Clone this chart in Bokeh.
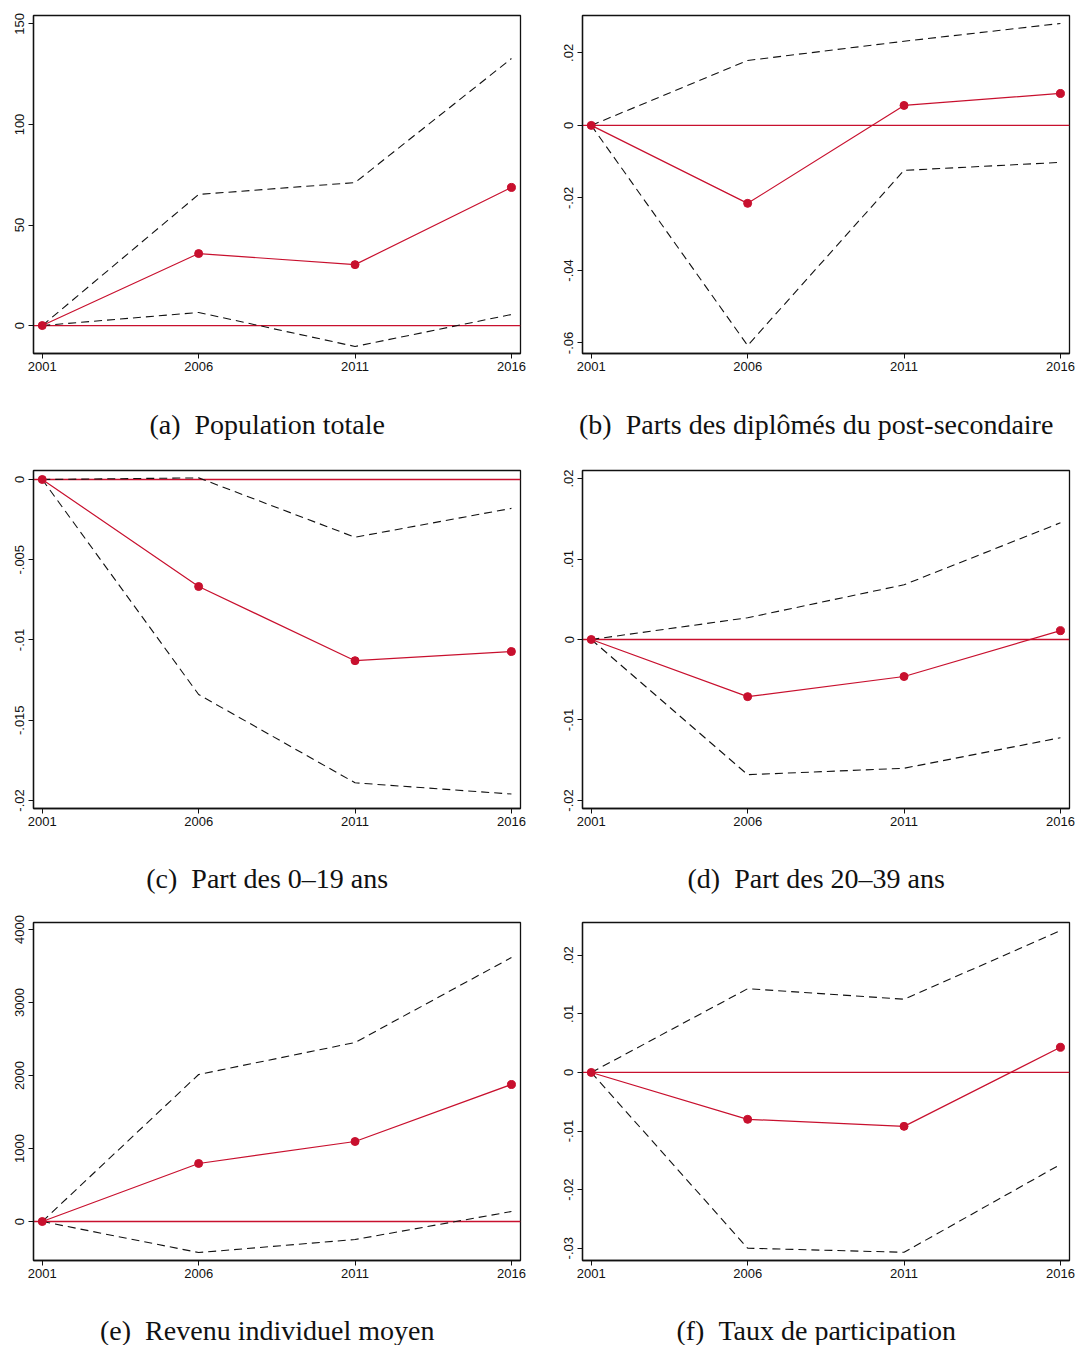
from bokeh.plotting import figure
from bokeh.layouts import column, row
from bokeh.models import FixedTicker, CustomJSTickFormatter, Range1d, Title
from bokeh.embed import file_html
from bokeh.resources import INLINE

years = [2001, 2006, 2011, 2016]
year_labels = ["2001", "2006", "2011", "2016"]
x_limits = [2000.72, 2016.29]

a_est = [0, 35.8, 30.3, 68.7]
a_hi = [0, 65.2, 71.1, 132.8]
a_lo = [0, 6.5, -10.4, 5.5]
a_ticks = [0, 50, 100, 150]
a_tick_labels = ["0", "50", "100", "150"]

b_est = [0, -0.0215, 0.0055, 0.0088]
b_hi = [0, 0.0179, 0.0232, 0.0281]
b_lo = [0, -0.0607, -0.0124, -0.0102]
b_ticks = [-0.06, -0.04, -0.02, 0, 0.02]
b_tick_labels = ["-.06", "-.04", "-.02", "0", ".02"]

c_est = [0, -0.00667, -0.01129, -0.01072]
c_hi = [0, 0.0001, -0.0036, -0.0018]
c_lo = [0, -0.0134, -0.0189, -0.0196]
c_ticks = [-0.02, -0.015, -0.01, -0.005, 0]
c_tick_labels = ["-.02", "-.015", "-.01", "-.005", "0"]

d_est = [0, -0.0071, -0.0046, 0.0011]
d_hi = [0, 0.0027, 0.0068, 0.0145]
d_lo = [0, -0.0168, -0.0160, -0.0122]
d_ticks = [-0.02, -0.01, 0, 0.01, 0.02]
d_tick_labels = ["-.02", "-.01", "0", ".01", ".02"]

e_est = [0, 795, 1096, 1877]
e_hi = [0, 2014, 2452, 3616]
e_lo = [0, -425, -247, 137]
e_ticks = [0, 1000, 2000, 3000, 4000]
e_tick_labels = ["0", "1000", "2000", "3000", "4000"]

f_est = [0, -0.0080, -0.0092, 0.0043]
f_hi = [0, 0.0143, 0.0125, 0.0242]
f_lo = [0, -0.0300, -0.0307, -0.0157]
f_ticks = [-0.03, -0.02, -0.01, 0, 0.01, 0.02]
f_tick_labels = ["-.03", "-.02", "-.01", "0", ".01", ".02"]

captions = [
    "(a)\u2002Population totale",
    "(b)\u2002Parts des dipl\u00f4m\u00e9s du post-secondaire",
    "(c)\u2002Part des 0\u201319 ans",
    "(d)\u2002Part des 20\u201339 ans",
    "(e)\u2002Revenu individuel moyen",
    "(f)\u2002Taux de participation",
]

RED = "#c8102e"
INK = "#111111"
JS = """
let best = 0; let bd = Infinity;
for (let i = 0; i < vals.length; i++) { const d = Math.abs(vals[i] - tick); if (d < bd) { bd = d; best = i; } }
return labs[best];
"""


def panel(est, hi, lo, ticks, tlabels, yr, caption, right_col, top_b, gap, pad):
    p = figure(
        frame_width=487, frame_height=338,
        min_border_left=33, min_border_right=(9 if right_col else 29),
        min_border_top=top_b, min_border_bottom=0,
        output_backend="svg", toolbar_location=None,
        x_range=Range1d(*x_limits), y_range=Range1d(*yr),
        background_fill_color="white", border_fill_color="white",
    )
    p.grid.visible = False
    p.outline_line_color = INK
    p.outline_line_width = 1.3
    for ax in (p.xaxis[0], p.yaxis[0]):
        ax.axis_line_color = INK
        ax.axis_line_width = 1.3
        ax.major_tick_out = 5
        ax.major_tick_in = 0
        ax.minor_tick_line_color = None
        ax.major_tick_line_color = INK
        ax.major_label_text_font = "Liberation Sans"
        ax.major_label_text_font_size = "13px"
        ax.major_label_text_color = INK
    p.xaxis.major_label_standoff = 3
    p.yaxis.major_label_standoff = 4
    p.xaxis.ticker = FixedTicker(ticks=years)
    p.xaxis.formatter = CustomJSTickFormatter(args=dict(vals=years, labs=year_labels), code=JS)
    p.yaxis.ticker = FixedTicker(ticks=ticks)
    p.yaxis.formatter = CustomJSTickFormatter(args=dict(vals=ticks, labs=tlabels), code=JS)
    p.yaxis.major_label_orientation = "vertical"

    # zero reference line, drawn as a thin filled band across the whole frame
    p.rect(x=[(x_limits[0] + x_limits[1]) / 2], y=[0], width=[x_limits[1] - x_limits[0]],
           height=1.3, height_units="screen", fill_color=RED, line_color=None)
    p.line(years, hi, line_color=INK, line_width=1.1, line_dash="8 5")
    p.line(years, lo, line_color=INK, line_width=1.1, line_dash="8 5")
    p.line(years, est, line_color=RED, line_width=1.2)
    p.scatter(years, est, size=8, fill_color=RED, line_color=RED)

    # thin spacer between the axis and the caption
    p.add_layout(Title(text=" ", text_font_size="1px", standoff=gap), "below")
    # trailing thin spaces nudge the centred caption slightly left, as in the original
    t = Title(text=caption + "\u2002\u2009", align="center", text_font="Liberation Serif",
              text_font_size="28px", text_font_style="normal", text_color=INK,
              standoff=2 * pad)
    p.add_layout(t, "below")
    return p


pa = panel(a_est, a_hi, a_lo, a_ticks, a_tick_labels, (-13.9, 154.2), captions[0], False, 15, 8, 22)
pb = panel(b_est, b_hi, b_lo, b_ticks, b_tick_labels, (-0.0629, 0.0303), captions[1], True, 15, 8, 22)
pc = panel(c_est, c_hi, c_lo, c_ticks, c_tick_labels, (-0.0205, 0.00056), captions[2], False, 9, 8, 21)
pd = panel(d_est, d_hi, d_lo, d_ticks, d_tick_labels, (-0.0210, 0.0210), captions[3], True, 9, 8, 21)
pe = panel(e_est, e_hi, e_lo, e_ticks, e_tick_labels, (-534, 4096), captions[4], False, 8, 29, 0)
pf = panel(f_est, f_hi, f_lo, f_ticks, f_tick_labels, (-0.0321, 0.0256), captions[5], True, 8, 29, 0)

layout = column(row(pa, pb), row(pc, pd), row(pe, pf))
open("out.html", "w").write(file_html(layout, INLINE))
